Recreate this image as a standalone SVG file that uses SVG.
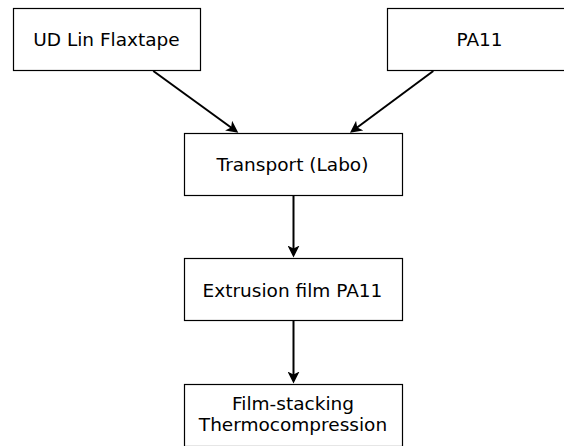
<svg xmlns="http://www.w3.org/2000/svg" width="564" height="446" viewBox="0 0 564 446">
<style>
.box{fill:#ffffff;stroke:#000000;stroke-width:1.2}
.lbl{font-family:"DejaVu Sans","Verdana",sans-serif;font-size:18.5px;fill:#000000;text-anchor:middle}
.edge{fill:none;stroke:#000000;stroke-width:2}
</style>
<defs>
<marker id="arr" viewBox="0 0 12 12" refX="9" refY="6" markerWidth="12" markerHeight="12" markerUnits="userSpaceOnUse" orient="auto">
<path d="M0,0 L12,6 L0,12 L3,6 z" fill="#000000"/>
</marker>
</defs>
<rect width="564" height="446" fill="#ffffff"/>
<g id="connectors">
<path class="edge" d="M153.3,71 L235.9,131" marker-end="url(#arr)"/>
<path class="edge" d="M433.3,71 L352.4,131" marker-end="url(#arr)"/>
<path class="edge" d="M293.5,196 L293.5,254.5" marker-end="url(#arr)"/>
<path class="edge" d="M293.5,321 L293.5,380.5" marker-end="url(#arr)"/>
</g>
<g id="n-flax">
<rect class="box" x="13.5" y="8.5" width="187" height="62"/>
<text class="lbl" x="106.5" y="46">UD Lin Flaxtape</text>
</g>
<g id="n-pa11">
<rect class="box" x="387.5" y="8.5" width="187" height="62"/>
<text class="lbl" x="479.5" y="46">PA11</text>
</g>
<g id="n-transport">
<rect class="box" x="184.5" y="133.5" width="218" height="62"/>
<text class="lbl" x="292.5" y="171">Transport (Labo)</text>
</g>
<g id="n-extrusion">
<rect class="box" x="184.5" y="258.5" width="218" height="62"/>
<text class="lbl" x="292.5" y="296.5">Extrusion film PA11</text>
</g>
<g id="n-filmstack">
<rect class="box" x="184.5" y="384.5" width="218" height="62"/>
<text class="lbl" x="293" y="410">Film-stacking</text>
<text class="lbl" x="293" y="431">Thermocompression</text>
</g>
</svg>
